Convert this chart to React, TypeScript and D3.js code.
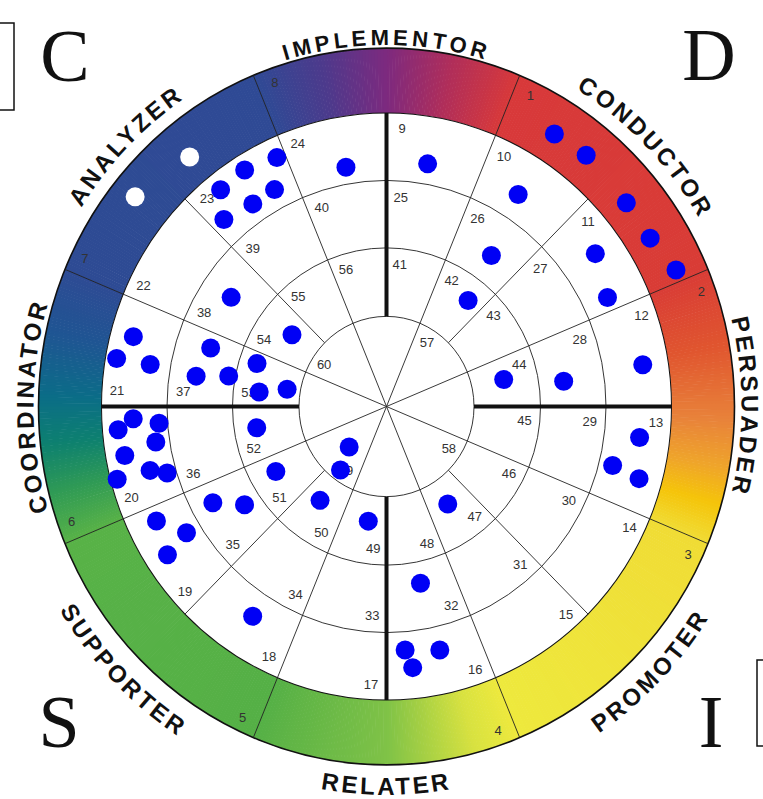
import React from 'react';
import * as d3 from 'd3';

const W = 763;
const H = 799;
const CX = 386.5;
const CY = 406.5;
const KY = 1.03; // the wheel is a little taller than wide

// ring boundaries: level -> horizontal radius in px
const ringLevels = [0, 1, 2, 3, 4, 5];
const ringRadii = [0, 87.5, 154, 219.5, 285, 348];

// behavioural styles round the rim
const styleNames = ['IMPLEMENTOR', 'CONDUCTOR', 'PERSUADER', 'PROMOTER', 'RELATER', 'SUPPORTER', 'COORDINATOR', 'ANALYZER'];
const styleAngles = [0, 45, 90, 135, 180, 225, 270, 315];
const styleBaseline = [351, 362, 355, 382, 377, 382, 353, 361];

// segment numbers
const colorRingLabels = [1, 2, 3, 4, 5, 6, 7, 8];
const outerBandLabels = [9, 10, 11, 12, 13, 14, 15, 16, 17, 18, 19, 20, 21, 22, 23, 24];
const middleBandLabels = [25, 26, 27, 28, 29, 30, 31, 32, 33, 34, 35, 36, 37, 38, 39, 40];
const innerBandLabels = [41, 42, 43, 44, 45, 46, 47, 48, 49, 50, 51, 52, 53, 54, 55, 56];
const centreLabels = [57, 58, 59, 60];

// plotted points: [angle clockwise from top (deg), ring level]
const blueDots: [number, number][] = [
  [32.4, 4.45], [39.3, 4.48], [50.5, 4.41], [58.2, 4.4], [65.4, 4.53],
  [335.6, 3.7], [328.3, 3.77], [321.75, 3.74], [332.0, 3.29], [325.8, 3.28], [318.15, 3.37], [350.1, 3.25],
  [304.3, 2.52], [306.4, 1.45], [285.0, 3.65], [279.8, 3.83], [279.8, 3.31], [287.9, 2.47], [278.8, 2.59],
  [280.6, 2.1], [287.85, 1.73], [276.3, 1.61], [279.6, 1.2],
  [267.3, 3.52], [265.2, 3.76], [265.9, 3.13], [261.5, 3.21], [259.7, 3.71], [255.3, 3.38], [253.6, 3.14],
  [255.3, 3.9], [261.0, 1.66], [223.5, 0.62], [216.7, 0.88], [240.3, 1.6], [241.7, 2.66], [236.1, 2.26],
  [216.1, 1.38], [189.3, 1.38], [244.2, 3.55], [238.5, 3.23], [236.7, 3.65], [213.3, 3.37],
  [96.8, 3.54], [104.2, 3.21], [105.5, 3.65], [147.1, 1.38], [168.8, 2.32], [175.5, 3.27], [167.3, 3.35], [174.1, 3.54],
  [9.9, 3.3], [32.6, 3.38], [35.6, 2.4], [38.4, 1.66], [54.6, 3.56], [64.4, 3.39], [81.0, 3.61], [77.4, 1.49], [82.1, 2.38],
];
const whiteDots: [number, number][] = [[320.9, 4.43], [309.0, 4.61]];

// colour wheel stops (angle -> colour)
const hueAngles = [0, 11, 22.5, 67.5, 80, 92, 100, 106, 112.5, 157.5, 165, 180, 202.5, 247.5, 256, 264, 272, 282, 292.5, 337.5, 349, 360];
const hueColors = ['#7d2a7f', '#b02e5a', '#d8393a', '#d93c36', '#e0552f', '#e8823a', '#efa52a', '#f5c40a', '#f0dc35', '#eee93d', '#d8e240', '#7fc247', '#55b046', '#58b247', '#2f9a55', '#0d8070', '#0b6c88', '#1f5593', '#2e4b94', '#2f4a95', '#4d3a8c', '#7d2a7f'];

const rad = (deg: number) => (deg * Math.PI) / 180;
const r = d3.scaleLinear().domain(ringLevels).range(ringRadii);
const hue = d3.scaleLinear<string>().domain(hueAngles).range(hueColors).interpolate(d3.interpolateRgb);

function proj(deg: number, radius: number): [number, number] {
  return [CX + radius * Math.sin(rad(deg)), CY - radius * KY * Math.cos(rad(deg))];
}

function arcPath(center: number, radius: number, clockwise: boolean) {
  const a0 = clockwise ? center - 85 : center + 85;
  const a1 = clockwise ? center + 85 : center - 85;
  const [x0, y0] = proj(a0, radius);
  const [x1, y1] = proj(a1, radius);
  return `M${x0},${y0} A${radius},${radius * KY} 0 0 ${clockwise ? 1 : 0} ${x1},${y1}`;
}

export default function App() {
  const slice = d3.arc<any>().innerRadius(r(4)).outerRadius(r(5));
  const steps = d3.range(0, 360, 0.5);

  const bandLabels = [
    { labels: outerBandLabels, level: 3.77, offset: 3.3, step: 22.5, start: 0 },
    { labels: middleBandLabels, level: 2.76, offset: 4, step: 22.5, start: 0 },
    { labels: innerBandLabels, level: 1.77, offset: 5.5, step: 22.5, start: 0 },
    { labels: centreLabels, level: 0.85, offset: 10.5, step: 90, start: 22.5 },
    { labels: colorRingLabels, level: 4.78, offset: 3, step: 45, start: 22.5 },
  ];

  const bottomText = (a: number) => a > 100 && a < 260;

  return (
    <svg width={W} height={H} style={{ position: 'absolute', left: 0, top: 0, background: '#fff' }}
      fontFamily="'Liberation Sans', Arial, sans-serif">
      <defs>
        {styleNames.map((n, i) => {
          const cw = !bottomText(styleAngles[i]);
          return <path key={n} id={`lbl-${i}`} d={arcPath(styleAngles[i], styleBaseline[i], cw)} />;
        })}
      </defs>

      {/* corner boxes */}
      <rect x={-10} y={23} width={24} height={87} fill="none" stroke="#111" strokeWidth={1.5} />
      <rect x={757} y={660} width={20} height={86} fill="none" stroke="#111" strokeWidth={1.5} />

      {/* corner letters */}
      <g fontFamily="'Liberation Serif', 'Times New Roman', serif" fontSize={74} fill="#111" textAnchor="middle">
        <text x={65} y={81}>C</text>
        <text x={709} y={80}>D</text>
        <text x={59} y={747}>S</text>
        <text x={711} y={747}>I</text>
      </g>

      {/* colour ring */}
      <g transform={`translate(${CX},${CY}) scale(1,${KY})`}>
        {steps.map(a => (
          <path key={a} d={slice({ startAngle: rad(a), endAngle: rad(a + 0.6) }) as string}
            fill={hue(a + 0.25)} stroke="none" />
        ))}
        <circle r={r(5)} fill="none" stroke="#111" strokeWidth={1.6} />
        <circle r={r(4)} fill="#fff" stroke="#111" strokeWidth={1} />
        {[1, 2, 3].map(l => (
          <circle key={l} r={r(l)} fill="none" stroke="#222" strokeWidth={0.9} />
        ))}
      </g>

      {/* spokes through the centre (also divide the colour ring) */}
      {d3.range(8).map(i => {
        const a = 22.5 + 45 * i;
        const [x1, y1] = proj(a, r(5));
        return <line key={`s${i}`} x1={CX} y1={CY} x2={x1} y2={y1} stroke="#222" strokeWidth={0.9} />;
      })}
      {/* diagonal spokes */}
      {[45, 135, 225, 315].map(a => {
        const [x0, y0] = proj(a, r(1));
        const [x1, y1] = proj(a, r(4));
        return <line key={`d${a}`} x1={x0} y1={y0} x2={x1} y2={y1} stroke="#222" strokeWidth={0.9} />;
      })}
      {/* axis bars */}
      {[0, 90, 180, 270].map(a => {
        const [x0, y0] = proj(a, r(1));
        const [x1, y1] = proj(a, r(4));
        return <line key={`t${a}`} x1={x0} y1={y0} x2={x1} y2={y1} stroke="#111" strokeWidth={4} />;
      })}

      {/* segment numbers */}
      <g fontSize={13} fill="#333" textAnchor="middle" dominantBaseline="central">
        {bandLabels.map(b => b.labels.map((n, i) => {
          const [x, y] = proj(b.start + b.step * i + b.offset, r(b.level));
          return <text key={n} x={x} y={y}>{n}</text>;
        }))}
      </g>

      {/* style names */}
      <g fontWeight="bold" fill="#111">
        {styleNames.map((n, i) => (
          <text key={n} fontSize={n === 'IMPLEMENTOR' ? 22 : 24} letterSpacing={n === 'IMPLEMENTOR' ? 4 : 3}>
            <textPath href={`#lbl-${i}`} startOffset="50%" textAnchor="middle">{n}</textPath>
          </text>
        ))}
      </g>

      {/* points */}
      {whiteDots.map(([a, l], i) => {
        const [x, y] = proj(a, r(l));
        return <circle key={`w${i}`} cx={x} cy={y} r={9.5} fill="#fff" />;
      })}
      {blueDots.map(([a, l], i) => {
        const [x, y] = proj(a, r(l));
        return <circle key={`b${i}`} cx={x} cy={y} r={9.5} fill="#0000f5" />;
      })}
    </svg>
  );
}
